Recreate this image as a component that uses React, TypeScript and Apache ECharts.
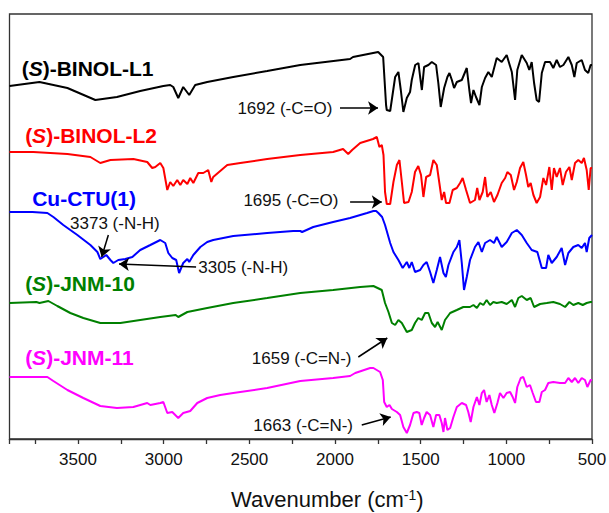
import React, { useEffect, useRef } from "react";
import * as echarts from "echarts";

// Wavenumber (cm-1) vs. offset transmittance (arbitrary units, stacked traces)
const binolL1: [number, number][] = [
  [3900, 353], [3725, 357], [3562, 351], [3399, 339], [3273, 342], [3137, 348], [3002, 353], [2962, 354], [2944, 352],
  [2915, 341], [2886, 352], [2851, 344], [2816, 354], [2746, 357], [2594, 362], [2396, 368], [2203, 374], [1912, 380],
  [1895, 382], [1748, 387], [1719, 382], [1702, 334], [1698, 329], [1678, 328], [1649, 362], [1630, 367], [1616, 349],
  [1601, 327], [1581, 341], [1562, 347], [1552, 359], [1532, 374], [1513, 376], [1503, 362], [1493, 349], [1480, 372],
  [1455, 374], [1435, 377], [1410, 374], [1397, 356], [1383, 332], [1363, 351], [1344, 362], [1332, 366], [1318, 359],
  [1305, 351], [1289, 357], [1260, 359], [1231, 371], [1216, 349], [1206, 336], [1192, 349], [1177, 342], [1157, 334],
  [1143, 352], [1124, 361], [1105, 367], [1085, 362], [1056, 381], [1027, 377], [998, 384], [968, 367], [949, 339],
  [936, 369], [910, 384], [881, 376], [866, 369], [852, 377], [838, 356], [823, 339], [809, 337], [793, 366], [774, 377],
  [745, 377], [726, 371], [706, 379], [687, 372], [667, 374], [638, 382], [618, 374], [603, 362], [589, 376], [560, 379],
  [541, 369], [522, 366], [508, 374], [500, 374],
];

const binolL2: [number, number][] = [
  [3900, 287], [3761, 287], [3562, 285], [3428, 282], [3370, 276], [3311, 279], [3177, 280], [3096, 277], [3067, 271],
  [3049, 272], [3020, 276], [3002, 271], [2979, 249], [2962, 257], [2944, 253], [2921, 259], [2903, 254], [2886, 259],
  [2862, 255], [2845, 261], [2827, 256], [2798, 266], [2769, 266], [2740, 269], [2722, 257], [2711, 262], [2629, 274],
  [2553, 276], [2396, 280], [2203, 284], [2011, 287], [1953, 290], [1923, 285], [1900, 289], [1853, 296], [1778, 300],
  [1756, 302], [1741, 292], [1727, 294], [1717, 284], [1708, 247], [1698, 235], [1678, 235], [1659, 257], [1639, 274],
  [1624, 279], [1610, 257], [1597, 236], [1571, 237], [1552, 247], [1533, 267], [1514, 273], [1498, 264], [1484, 242],
  [1468, 262], [1445, 264], [1426, 279], [1406, 274], [1391, 256], [1377, 239], [1363, 247], [1352, 236], [1332, 236],
  [1313, 249], [1289, 251], [1270, 256], [1255, 261], [1235, 249], [1212, 236], [1183, 239], [1170, 251], [1157, 239],
  [1138, 247], [1124, 262], [1111, 242], [1091, 247], [1072, 237], [1052, 244], [1027, 256], [1007, 261], [994, 267],
  [974, 264], [955, 249], [939, 257], [920, 271], [901, 277], [885, 264], [872, 252], [858, 256], [842, 244], [823, 236],
  [803, 242], [784, 261], [768, 254], [749, 272], [735, 249], [722, 271], [706, 262], [687, 271], [671, 254], [652, 267],
  [632, 272], [618, 259], [599, 276], [580, 279], [560, 276], [547, 281], [531, 269], [519, 249], [508, 271], [500, 271],
];

const cuCtu1: [number, number][] = [
  [3900, 227], [3766, 227], [3679, 226], [3644, 222], [3586, 214], [3504, 204], [3428, 194], [3387, 187], [3370, 180],
  [3352, 182], [3335, 184], [3311, 179], [3294, 176], [3265, 179], [3224, 180], [3183, 182], [3137, 189], [3078, 194],
  [3020, 199], [2991, 196], [2973, 186], [2950, 181], [2927, 179], [2910, 166], [2886, 176], [2862, 180], [2851, 177],
  [2827, 184], [2786, 192], [2746, 197], [2711, 199], [2594, 203], [2396, 206], [2244, 208], [2203, 208], [2192, 207],
  [2127, 212], [2011, 217], [1912, 221], [1813, 226], [1776, 228], [1760, 228], [1747, 226], [1725, 222], [1708, 214],
  [1678, 196], [1659, 187], [1630, 179], [1605, 171], [1581, 177], [1566, 171], [1552, 177], [1533, 167], [1503, 169],
  [1484, 174], [1465, 177], [1445, 167], [1426, 156], [1406, 169], [1387, 182], [1367, 166], [1353, 162], [1338, 174],
  [1309, 187], [1289, 192], [1274, 199], [1260, 176], [1247, 149], [1231, 162], [1212, 179], [1183, 192], [1163, 197],
  [1143, 187], [1124, 196], [1095, 199], [1072, 196], [1056, 202], [1027, 192], [998, 197], [968, 206], [939, 209],
  [910, 204], [881, 196], [852, 189], [819, 187], [793, 171], [768, 171], [755, 184], [735, 176], [706, 182], [677, 191],
  [657, 174], [638, 186], [609, 192], [580, 194], [560, 191], [541, 196], [531, 187], [516, 201], [500, 204],
];

const jnm10: [number, number][] = [
  [3900, 136], [3743, 137], [3725, 136], [3673, 138], [3621, 133], [3545, 126], [3469, 121], [3370, 116], [3253, 116],
  [3137, 119], [3020, 122], [2930, 124], [2915, 122], [2862, 127], [2746, 131], [2594, 136], [2396, 141], [2203, 146],
  [2011, 149], [1853, 152], [1776, 153], [1727, 149], [1708, 136], [1688, 127], [1668, 116], [1649, 114], [1630, 119],
  [1610, 116], [1581, 107], [1552, 109], [1533, 116], [1514, 121], [1494, 119], [1474, 126], [1455, 126], [1435, 116],
  [1416, 112], [1401, 117], [1377, 109], [1358, 119], [1328, 126], [1289, 129], [1251, 132], [1212, 132], [1192, 134],
  [1172, 131], [1153, 136], [1134, 134], [1115, 139], [1095, 134], [1076, 137], [1056, 136], [1027, 137], [998, 135],
  [968, 139], [949, 132], [930, 141], [910, 143], [881, 139], [858, 141], [838, 132], [803, 135], [764, 136], [726, 137],
  [687, 135], [657, 132], [632, 137], [609, 134], [580, 136], [554, 134], [531, 136], [508, 137], [500, 137],
];

const jnm11: [number, number][] = [
  [3900, 62], [3766, 62], [3679, 62], [3644, 58], [3562, 49], [3469, 41], [3370, 33], [3273, 31], [3177, 32], [3096, 36],
  [3078, 34], [3020, 36], [3002, 37], [2979, 26], [2950, 27], [2915, 21], [2886, 26], [2845, 28], [2804, 36], [2746, 41],
  [2670, 44], [2594, 46], [2396, 51], [2203, 58], [2011, 61], [1912, 63], [1882, 66], [1795, 71], [1776, 71], [1737, 67],
  [1721, 59], [1713, 37], [1698, 32], [1682, 34], [1668, 30], [1639, 27], [1620, 24], [1601, 12], [1581, 6], [1562, 14],
  [1542, 26], [1523, 27], [1508, 26], [1494, 14], [1480, 21], [1465, 27], [1445, 24], [1426, 12], [1410, 24], [1391, 24],
  [1377, 16], [1367, 7], [1358, 21], [1344, 9], [1328, 11], [1309, 22], [1289, 32], [1260, 36], [1235, 34], [1222, 27],
  [1208, 17], [1192, 32], [1172, 42], [1157, 34], [1143, 46], [1130, 49], [1115, 37], [1099, 44], [1085, 34], [1070, 26],
  [1052, 36], [1037, 46], [1017, 41], [998, 46], [978, 47], [963, 42], [949, 36], [936, 52], [916, 61], [901, 62],
  [881, 52], [862, 54], [846, 46], [827, 37], [807, 37], [793, 47], [774, 49], [755, 56], [726, 57], [687, 56], [657, 56],
  [638, 61], [618, 57], [599, 61], [580, 56], [560, 61], [541, 59], [527, 52], [508, 59], [500, 59],
];

const seriesNames = ["(S)-BINOL-L1", "(S)-BINOL-L2", "Cu-CTU(1)", "(S)-JNM-10", "(S)-JNM-11"];
const seriesColors = ["#000000", "#ff0000", "#0000ff", "#008000", "#ff00ff"];
const seriesData = [binolL1, binolL2, cuCtu1, jnm10, jnm11];
// anchor (left edge, vertical middle) of each trace's name label, in data units
const nameAnchors: [number, number][] = [[3829, 371], [3809, 304], [3768, 241], [3809, 156], [3809, 82]];

// peak annotations: text anchor and arrow (from -> to), in data units
const annoTexts = ["1692 (-C=O)", "1695 (-C=O)", "3373 (-N-H)", "3305 (-N-H)", "1659 (-C=N-)", "1663 (-C=N-)"];
const annoTextAt: [number, number][] = [[2570, 331], [2535, 239], [3547, 216], [2798, 172], [2486, 81], [2477, 14]];
const annoArrowFrom: [number, number][] = [[1971, 331], [1912, 237], [3323, 204], [2811, 172], [1864, 82], [1844, 14]];
const annoArrowTo: [number, number][] = [[1749, 331], [1727, 237], [3362, 182], [3261, 175], [1695, 101], [1675, 22]];

const xTickValues = [3500, 3000, 2500, 2000, 1500, 1000, 500];

const FONT = 'Arial, "Liberation Sans", Helvetica, sans-serif';

export default function App() {
  const ref = useRef<HTMLDivElement>(null);

  useEffect(() => {
    document.body.style.margin = "0";
    if (!ref.current) return;
    const chart = echarts.init(ref.current, null, { renderer: "svg" });

    const traceSeries = seriesData.map((d, i) => {
      const name = seriesNames[i];
      const formatted = name.startsWith("(S)") ? "({i|S})" + name.slice(3) : name;
      return {
        name,
        type: "line",
        data: d,
        showSymbol: false,
        symbol: "none",
        lineStyle: { color: seriesColors[i], width: 2 },
        itemStyle: { color: seriesColors[i] },
        z: 2,
        markPoint: {
          silent: true,
          symbol: "circle",
          symbolSize: 0.1,
          itemStyle: { color: "transparent" },
          data: [
            {
              coord: nameAnchors[i],
              label: {
                show: true,
                position: "right",
                distance: 0,
                formatter: formatted,
                color: seriesColors[i],
                fontFamily: FONT,
                fontSize: 21,
                fontWeight: "bold",
                rich: {
                  i: { fontStyle: "italic", fontWeight: "bold", fontSize: 21, fontFamily: FONT, color: seriesColors[i] },
                },
              },
            },
          ],
        },
      };
    });

    const annoSeries = {
      name: "annotations",
      type: "line",
      data: [],
      silent: true,
      z: 3,
      markLine: {
        silent: true,
        symbol: ["none", "arrow"],
        symbolSize: 10,
        lineStyle: { color: "#000", width: 1.5, type: "solid" },
        itemStyle: { color: "#000" },
        label: { show: false },
        emphasis: { disabled: true },
        data: annoArrowFrom.map((f, i) => [{ coord: f }, { coord: annoArrowTo[i] }]),
      },
      markPoint: {
        silent: true,
        symbol: "circle",
        symbolSize: 0.1,
        itemStyle: { color: "transparent" },
        data: annoTexts.map((t, i) => ({
          coord: annoTextAt[i],
          label: {
            show: true,
            position: "right",
            distance: 0,
            formatter: t,
            color: "#111",
            fontFamily: FONT,
            fontSize: 17,
          },
        })),
      },
    };

    chart.setOption({
      animation: false,
      backgroundColor: "#ffffff",
      grid: {
        left: 9.5,
        right: 17,
        top: 14,
        bottom: 74,
        show: true,
        borderColor: "#333",
        borderWidth: 1.3,
        backgroundColor: "transparent",
        containLabel: false,
        outerBoundsMode: "none",
      },
      xAxis: {
        type: "value",
        inverse: true,
        min: 500,
        max: 3900,
        interval: 250,
        splitLine: { show: false },
        axisLine: { show: true, lineStyle: { color: "#333", width: 1.3 } },
        axisTick: { show: true, inside: false, length: 5, lineStyle: { color: "#333", width: 1.3 } },
        axisLabel: {
          margin: 12,
          color: "#111",
          fontFamily: FONT,
          fontSize: 17,
          formatter: (v: number) => (xTickValues.indexOf(v) >= 0 ? String(v) : ""),
        },
      },
      yAxis: {
        type: "value",
        min: 0,
        max: 425,
        show: false,
        splitLine: { show: false },
      },
      graphic: [
        {
          type: "text",
          left: 231,
          top: 488,
          style: {
            text: "Wavenumber (cm{sup|-1})",
            fill: "#111",
            font: `22px ${FONT}`,
            fontFamily: FONT,
            fontSize: 22,
            rich: {
              sup: { fontSize: 14, fontFamily: FONT, verticalAlign: "top", fill: "#111" },
            },
          },
        },
      ],
      series: [...traceSeries, annoSeries],
    });

    return () => chart.dispose();
  }, []);

  return <div ref={ref} style={{ width: 609, height: 513 }} />;
}
